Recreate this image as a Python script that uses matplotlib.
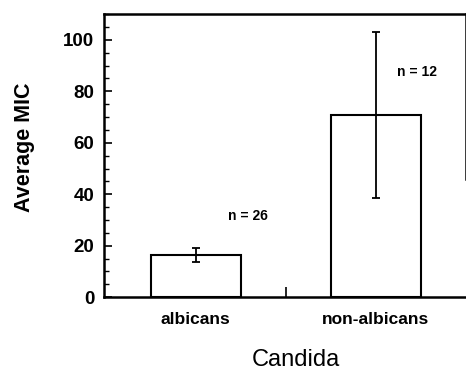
import matplotlib
matplotlib.use("Agg")
import matplotlib.pyplot as plt
from matplotlib.ticker import MultipleLocator, FixedLocator, NullFormatter

categories = ["albicans", "non-albicans"]
means = [16.5, 70.8]
errors = [2.7, 32.4]
n_labels = ["n = 26", "n = 12"]
n_label_pos = [(1.29, 31.4), (2.23, 87.6)]

plt.rcParams['font.family'] = ['Liberation Sans', 'DejaVu Sans']

fig = plt.figure(figsize=(4.66, 3.71), dpi=100)
ax = fig.add_axes([0.223, 0.199, 0.777, 0.763])

x = [1, 2]
ax.bar(x, means, width=0.5, color='white', edgecolor='black', linewidth=1.5, zorder=2)
ax.errorbar(x, means, yerr=errors, fmt='none', ecolor='black', elinewidth=1.3,
            capsize=3, capthick=1.3, zorder=3)

for (tx, ty), lab in zip(n_label_pos, n_labels):
    ax.text(tx, ty, lab, fontsize=10, fontweight='bold', ha='center', va='center')

ax.set_xlim(0.49, 2.5)
ax.set_ylim(0, 110)

ax.yaxis.set_major_locator(FixedLocator([0, 20, 40, 60, 80, 100]))
ax.yaxis.set_minor_locator(MultipleLocator(5))
ax.tick_params(axis='y', which='major', direction='in', length=6, width=1.2,
               labelsize=13.5, pad=7)
ax.tick_params(axis='y', which='minor', direction='in', length=3.5, width=1.0)
for lab in ax.get_yticklabels():
    lab.set_fontweight('bold')

ax.xaxis.set_major_locator(FixedLocator(x))
ax.set_xticklabels(categories, fontsize=12.5, fontweight='bold')
ax.xaxis.set_minor_locator(FixedLocator([1.5]))
ax.xaxis.set_minor_formatter(NullFormatter())
ax.tick_params(axis='x', which='major', length=0, pad=11)
ax.tick_params(axis='x', which='minor', direction='in', length=7, width=1.2)

for s in ['left', 'bottom', 'top', 'right']:
    ax.spines[s].set_linewidth(1.8)
ax.spines['right'].set_bounds(46, 110)

ax.set_ylabel("Average MIC", fontsize=15.5, fontweight='bold')
ax.yaxis.set_label_coords(-0.19, 0.53)
ax.set_xlabel("Candida", fontsize=17, va='center')
ax.xaxis.set_label_coords(0.53, -0.222)

fig.savefig("out.png", dpi=100)
